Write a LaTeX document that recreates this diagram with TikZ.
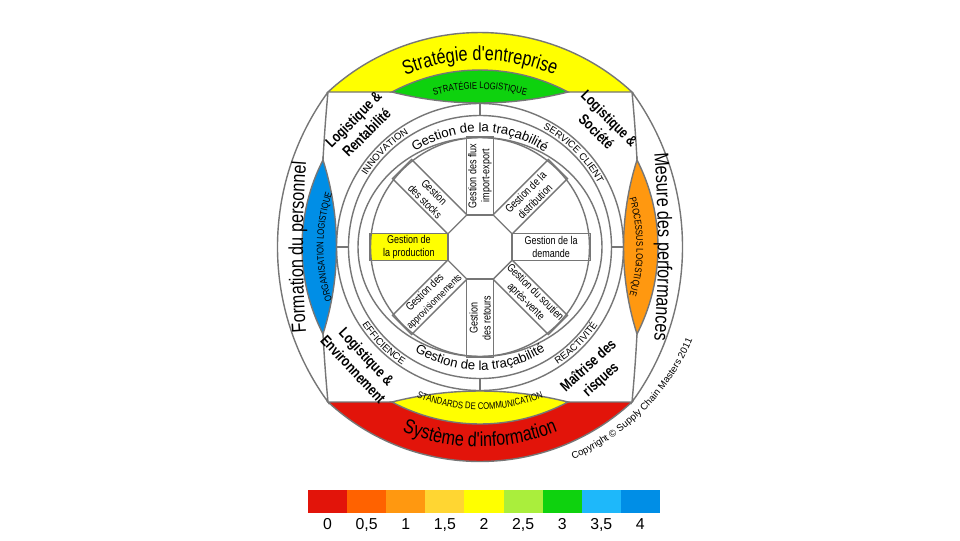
\documentclass[tikz,border=0pt]{standalone}
\usepackage{fontspec}
\setmainfont{Liberation Sans}
\newfontfamily\condfont[FakeStretch=0.8]{Liberation Sans}
\usepackage{xcolor}
\usepackage{tikz}
\usetikzlibrary{positioning,decorations.text}

\definecolor{linegray}{RGB}{118,118,118}
\definecolor{lvA}{RGB}{226,20,10}
\definecolor{lvB}{RGB}{255,98,0}
\definecolor{lvC}{RGB}{255,152,16}
\definecolor{lvD}{RGB}{255,214,50}
\definecolor{lvE}{RGB}{255,255,0}
\definecolor{lvF}{RGB}{170,238,60}
\definecolor{lvG}{RGB}{14,210,14}
\definecolor{lvH}{RGB}{30,184,250}
\definecolor{lvI}{RGB}{0,142,230}

\newcommand\outerfont{\condfont\fontsize{11.5}{11.5}\selectfont}
\newcommand\lensfont{\condfont\fontsize{5.5}{6}\selectfont}
\newcommand\ringfont{\fontsize{5.5}{6}\selectfont}
\newcommand\tracefont{\fontsize{7.5}{8}\selectfont}
\newcommand\boxfont{\condfont\fontsize{6.4}{7.4}\selectfont}
\newcommand\cornerfont{\condfont\bfseries\fontsize{8.5}{10.5}\selectfont}

\tikzset{arctext/.style={decorate,decoration={text along path,text align=center,text={#1}}}}

\begin{document}
\begin{tikzpicture}[x=.2mm,y=.2mm,every node/.style={align=center,inner sep=0pt},
  greyline/.style={draw=linegray,line width=.28mm},
  dombox/.style={greyline,minimum width=15.64mm,minimum height=5.4mm,font=\boxfont},
  cornertxt/.style={font=\cornerfont},
  legbox/.style={minimum width=7.82mm,minimum height=4.6mm}]
\useasboundingbox (-480,-293) rectangle (480,247);
\fill[white] (-480,-293) rectangle (480,247);

% outer crescents
\filldraw[greyline,fill=lvE] (-152,155) arc[start angle=132.75,end angle=47.25,radius=223.9] -- cycle;
\filldraw[greyline,fill=lvA] (-152,-155) arc[start angle=227.25,end angle=312.75,radius=223.9] -- cycle;
\filldraw[greyline,fill=white] (-152,155) arc[start angle=143.9,end angle=216.1,radius=263.1]
  arc[start angle=185.39,end angle=174.61,radius=1650.3];
\filldraw[greyline,fill=white] (152,155) arc[start angle=36.1,end angle=-36.1,radius=263.1]
  arc[start angle=-5.39,end angle=5.39,radius=1650.3];

% inner lenses
\filldraw[greyline,fill=lvG] (-88,155) arc[start angle=118.07,end angle=61.93,radius=187]
  arc[start angle=-75.75,end angle=-104.25,radius=357.5] -- cycle;
\begin{scope}[yscale=-1]
\filldraw[greyline,fill=lvE] (-88,155) arc[start angle=118.07,end angle=61.93,radius=187]
  arc[start angle=-75.75,end angle=-104.25,radius=357.5] -- cycle;
\end{scope}
\filldraw[greyline,fill=lvI] (-157,87) arc[start angle=152.86,end angle=207.14,radius=190.71]
  arc[start angle=-17.64,end angle=17.64,radius=287.1] -- cycle;
\begin{scope}[xscale=-1]
\filldraw[greyline,fill=lvC] (-157,87) arc[start angle=152.86,end angle=207.14,radius=190.71]
  arc[start angle=-17.64,end angle=17.64,radius=287.1] -- cycle;
\end{scope}

% ring
\draw[greyline] (0,0) circle[radius=143.5] (0,0) circle[radius=131.5];
\foreach \a in {0,90,180,270} \draw[greyline] (\a:131.5) -- (\a:143.5);

% wheel
\node[dombox,rotate=90] (flux) at (90:71.1) {Gestion des flux\\import-export};
\node[dombox,rotate=45] (distri) at (45:71.1) {Gestion de la\\distribution};
\node[dombox] (dem) at (0:71.1) {Gestion de la\\demande};
\node[dombox,rotate=-45] (sav) at (-45:71.1) {Gestion du soutien\\après-vente};
\node[dombox,rotate=90] (ret) at (-90:71.1) {Gestion\\des retours};
\node[dombox,rotate=45] (appro) at (-135:71.1) {Gestion des\\{\fontsize{5.8}{7}\selectfont approvisionnements}};
\node[dombox,fill=lvE] (prod) at (180:71.1) {Gestion de\\la production};
\node[dombox,rotate=-45] (stock) at (135:71.1) {Gestion\\des stocks};
\draw[greyline] (0,0) circle[radius=109.5];
\draw[greyline] (0,0) ellipse[x radius=122,y radius=109.5];

% texts on arcs
\path[arctext={|\outerfont|Stratégie d'entreprise}] ([shift={(0,-9.4)}]125:196) arc[start angle=125,end angle=55,radius=196];
\path[arctext={|\outerfont|Système d'information}] ([shift={(0,9.4)}]235:209) arc[start angle=235,end angle=305,radius=209];
\path[arctext={|\outerfont|Formation du personnel}] ([shift={(1000,0)}]185:1177) arc[start angle=185,end angle=175,radius=1177];
\path[arctext={|\outerfont|Mesure des performances}] ([shift={(-1000,0)}]5:1178) arc[start angle=5,end angle=-5,radius=1178];
\path[arctext={|\lensfont|STRATÉGIE LOGISTIQUE}] ([shift={(0,-10)}]110:168) arc[start angle=110,end angle=70,radius=168];
\path[arctext={|\lensfont|STANDARDS DE COMMUNICATION}] ([shift={(0,10)}]240:172.5) arc[start angle=240,end angle=300,radius=172.5];
\path[arctext={|\lensfont|ORGANISATION LOGISTIQUE}] ([shift={(12.7,0)}]210:169.2) arc[start angle=210,end angle=150,radius=169.2];
\path[arctext={|\lensfont|PROCESSUS LOGISTIQUE}] ([shift={(-12.7,0)}]30:169.2) arc[start angle=30,end angle=-30,radius=169.2];
\path[arctext={|\tracefont|Gestion de la traçabilité}] (140:115) arc[start angle=140,end angle=40,radius=115];
\path[arctext={|\tracefont|Gestion de la traçabilité}] (220:123) arc[start angle=220,end angle=320,radius=123];
\path[arctext={|\ringfont|INNOVATION}] (170:134) arc[start angle=170,end angle=100,radius=134];
\path[arctext={|\ringfont|SERVICE CLIENT}] (80:134) arc[start angle=80,end angle=10,radius=134];
\path[arctext={|\ringfont|EFFICIENCE}] (190:141) arc[start angle=190,end angle=260,radius=141];
\path[arctext={|\ringfont|REACTIVITÉ}] (280:141) arc[start angle=280,end angle=350,radius=141];
\path[arctext={|\ringfont|Copyright © Supply Chain Masters 2011}] (270:232) arc[start angle=270,end angle=360,radius=232];

% corners
\node[cornertxt,rotate=45] (rent) at (-120,121) {Logistique \&\\Rentabilité};
\node[cornertxt,rotate=-45] (soc) at (123,122) {Logistique \&\\Société};
\node[cornertxt,rotate=-47] (env) at (-120,-116) {Logistique \&\\Environnement};
\node[cornertxt,rotate=42] (risq) at (115,-126) {Maîtrise des\\risques};

% scale
\foreach \c/\v [count=\i] in {lvA/0,lvB/{0,5},lvC/1,lvD/{1,5},lvE/2,lvF/{2,5},lvG/3,lvH/{3,5},lvI/4}{
  \node[legbox,fill=\c] (k\i) at ({-172+39.1*(\i-.5)},-254.5) {};
  \node[below=.9mm of k\i,font=\fontsize{9}{10}\selectfont] (v\i) {\v};
}
\end{tikzpicture}
\end{document}
